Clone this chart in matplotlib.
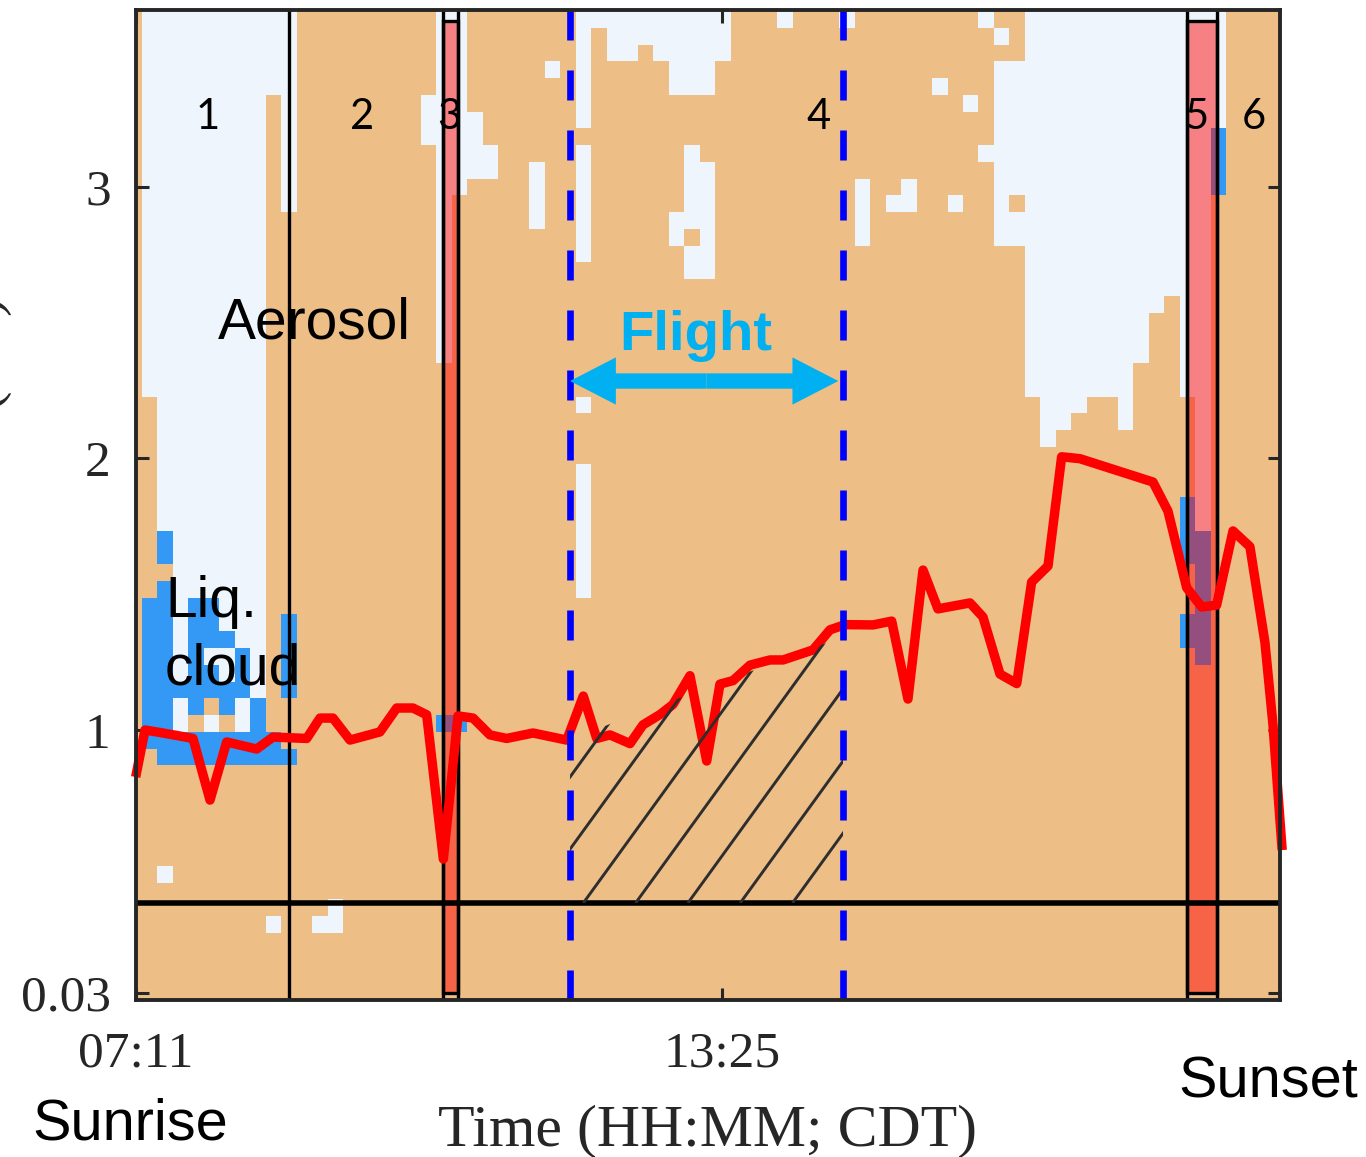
import numpy as np
import matplotlib
matplotlib.use("Agg")
import matplotlib.pyplot as plt
from matplotlib.colors import ListedColormap, BoundaryNorm
from matplotlib.patches import Rectangle, Polygon, FancyArrowPatch, ArrowStyle
from matplotlib.collections import LineCollection

# ------------------------------------------------------------------ data
# time in decimal hours (CDT)
t_start = 7 + 11 / 60          # 07:11 sunrise
t_mid = 13 + 25 / 60           # 13:25
t_stop = 19.357                # sunset
x_tick_vals = [t_start, t_mid]
x_tick_labels = ["07:11", "13:25"]
y_tick_vals = [0.03, 1, 2, 3]
y_tick_labels = ["0.03", "1", "2", "3"]

# classification grid (0 aerosol, 1 clear, 2 liquid cloud)
grid_t0 = 7.247        # first full time-bin edge (h)
grid_dt = 0.1647       # time bin (h)
grid_z0 = 0.005        # lowest altitude edge (km)
grid_dz = 0.0617       # altitude bin (km)
n_cols = 75            # column index -1 .. 73
n_rows = 59

# columns whose upper part is clear air: column index and lowest clear row
clear_col = [0, 1, 2, 3, 4, 5, 6, 7, 8, 9, 19, 20,
             57, 58, 59, 60, 61, 62, 63, 64, 65, 66, 67, 68]
clear_base = [36, 28, 28, 28, 28, 28, 28, 28, 54, 47, 38, 48,
              36, 33, 34, 35, 36, 36, 34, 38, 41, 42, 36, 28]

# isolated clear-air patches: column, lowest row, highest row
patch_col = [18, 21, 22, 25, 26, 28, 28, 28, 28, 29, 30, 31, 32, 33, 34, 34,
             35, 35, 35, 36, 36, 37, 41, 45, 46, 48, 49, 51, 52, 53, 54, 54,
             55, 55, 56, 56, 69, 1, 8, 11, 12]
patch_lo = [51, 49, 49, 46, 55, 24, 35, 44, 52, 58, 56, 56, 57, 56, 54, 45,
            54, 43, 46, 54, 43, 56, 58, 58, 45, 47, 47, 54, 47, 53, 58, 50,
            57, 45, 48, 45, 52, 7, 4, 4, 4]
patch_hi = [53, 52, 50, 49, 55, 31, 35, 50, 58, 58, 58, 58, 58, 58, 58, 46,
            58, 44, 50, 58, 49, 58, 58, 58, 48, 47, 48, 54, 47, 53, 58, 50,
            57, 55, 55, 46, 58, 7, 4, 4, 5]

# liquid-cloud patches: column, lowest row, highest row
cloud_col = [67, 67, 68, 69, 19, 20]
cloud_lo = [26, 21, 20, 48, 16, 16]
cloud_hi = [29, 22, 27, 51, 16, 16]

# morning cloud detail: rows 27 (top) .. 14, columns 0 .. 9
# a = aerosol, c = clear, w = liquid cloud
morning_rows = [
    "awccccccaa",
    "awccccccaa",
    "aaccccccaa",
    "awccccccaa",
    "wwcwwcccaa",
    "wwcwwcccaw",
    "wwcwwwccaw",
    "wwcwccwcaw",
    "wwcwwcwcaw",
    "wwwwwwwcaw",
    "wwcwawcwaa",
    "wwcacacwaa",
    "wwwwwwwwwa",
    "awwwwwwwww",
]
morning_top_row = 27

# boundary-layer height (red line)
pbl_time = [7.183, 7.282, 7.474, 7.793, 7.974, 8.151, 8.470, 8.644, 9.003, 9.144,
            9.282, 9.463, 9.782, 9.960, 10.133, 10.279, 10.456, 10.612, 10.772, 10.952,
            11.130, 11.410, 11.769, 11.945, 12.088, 12.229, 12.442, 12.580, 12.761, 12.899,
            13.080, 13.258, 13.399, 13.538, 13.719, 13.931, 14.070, 14.389, 14.570, 14.730,
            15.028, 15.226, 15.399, 15.559, 15.718, 16.059, 16.197, 16.378, 16.556, 16.715,
            16.889, 17.034, 17.229, 18.006, 18.165, 18.364, 18.524, 18.683, 18.857, 19.037,
            19.197, 19.282, 19.380]
pbl_height = [0.826, 0.999, 0.988, 0.968, 0.741, 0.955, 0.929, 0.973, 0.968, 1.043,
              1.043, 0.962, 0.992, 1.080, 1.080, 1.055, 0.524, 1.051, 1.043, 0.981,
              0.968, 0.988, 0.962, 1.124, 0.968, 0.981, 0.949, 1.018, 1.056, 1.093,
              1.199, 0.885, 1.168, 1.181, 1.238, 1.257, 1.257, 1.294, 1.368, 1.387,
              1.386, 1.400, 1.113, 1.588, 1.445, 1.467, 1.415, 1.205, 1.170, 1.544,
              1.603, 2.005, 1.998, 1.912, 1.805, 1.523, 1.452, 1.459, 1.732, 1.674,
              1.321, 1.019, 0.557]

# periods
period_bounds = [8.814, 10.452, 10.612, 18.367, 18.686]
red_periods = [(10.452, 10.612), (18.367, 18.686)]
period_names = ["1", "2", "3", "4", "5", "6"]
period_label_t = [7.953, 9.592, 10.517, 14.452, 18.474, 19.080]

flight_start, flight_end = 11.804, 14.708
surface_layer = 0.362
hatch_top = [0.966, 1.342]

# ------------------------------------------------------------------ colours
C_AER = "#EEBE87"
C_CLR = "#EEF5FC"
C_CLD = "#3399F4"
C_CYAN = "#00B0F0"

# ------------------------------------------------------------------ grid build
grid = np.zeros((n_rows, n_cols), dtype=int)
for c, b in zip(clear_col, clear_base):
    grid[b:, c + 1] = 1
for c, lo, hi in zip(patch_col, patch_lo, patch_hi):
    grid[lo:hi + 1, c + 1] = 1
code = {"a": 0, "c": 1, "w": 2}
for i, row in enumerate(morning_rows):
    r = morning_top_row - i
    for c, ch in enumerate(row):
        grid[r, c + 1] = code[ch]
for c, lo, hi in zip(cloud_col, cloud_lo, cloud_hi):
    grid[lo:hi + 1, c + 1] = 2

t_left = grid_t0 - grid_dt
t_right = t_left + n_cols * grid_dt
z_top = grid_z0 + n_rows * grid_dz

# ------------------------------------------------------------------ figure
W, H = 1366, 1157
fig = plt.figure(figsize=(W / 100, H / 100), dpi=100)
ax = fig.add_axes([135.7 / W, 1 - 1000 / H, (1280 - 135.7) / W, 990 / H])

cmap = ListedColormap([C_AER, C_CLR, C_CLD])
norm = BoundaryNorm([-0.5, 0.5, 1.5, 2.5], 3)
ax.imshow(grid, origin="lower", extent=[t_left, t_right, grid_z0, z_top],
          aspect="auto", interpolation="nearest", cmap=cmap, norm=norm, zorder=0)

# red periods
for a, b in red_periods:
    ax.add_patch(Rectangle((a, 0.03), b - a, 3.58, facecolor=(1, 0, 0, 0.48),
                           edgecolor="black", lw=2.4, zorder=1))
for tb in period_bounds:
    ax.axvline(tb, color="black", lw=2.4, zorder=2)

ax.axhline(surface_layer, color="black", lw=4, zorder=2)

# boundary layer line
ax.plot(pbl_time, pbl_height, color="#FF0000", lw=6.8, zorder=3,
        solid_joinstyle="round", solid_capstyle="butt", clip_on=False)

# hatch of flight region
poly = Polygon([(flight_start, surface_layer), (flight_end, surface_layer),
                (flight_end, hatch_top[1]), (flight_start, hatch_top[0])],
               closed=True, facecolor="none", edgecolor="none",
               transform=ax.transData)
ax.add_patch(poly)
h_slope = 0.4776
h_space = 0.5564
h_phase = 11.945
segs = []
for k in range(-4, 8):
    t0 = h_phase + k * h_space
    segs.append([(t0, surface_layer), (t0 + 3 / h_slope, surface_layer + 3)])
lc = LineCollection(segs, colors="#2E2E2E", linewidths=2.1, zorder=4)
ax.add_collection(lc)
lc.set_clip_path(poly)

# flight dashed lines
for tf in (flight_start, flight_end):
    ax.plot([tf, tf], [3.65, 0.005], color="#0000FF", lw=4.8,
            dashes=(4.5, 4.5), zorder=5, solid_capstyle="butt",
            dash_capstyle="butt")

# flight arrow (two halves)
y_arrow = 2.284
t_mid_arrow = 0.5 * (flight_start + flight_end)
for end in (flight_start, flight_end - 0.05):
    ax.add_patch(FancyArrowPatch(
        (t_mid_arrow, y_arrow), (end, y_arrow),
        arrowstyle=ArrowStyle("Simple", head_length=33, head_width=34,
                              tail_width=11),
        mutation_scale=1, shrinkA=0, shrinkB=0, lw=0, color=C_CYAN, zorder=6))
ax.text(13.144, 2.398, "Flight", color=C_CYAN, fontsize=40.5, fontweight="bold",
        family="Liberation Sans", ha="center", va="baseline", zorder=7)

# labels inside
for name, tl in zip(period_names, period_label_t):
    ax.text(tl, 3.211, name, fontsize=30, family="Lato", ha="center",
            va="baseline", color="black", zorder=7)
ax.text(8.059, 2.442, "Aerosol", fontsize=41, family="Liberation Sans",
        ha="left", va="baseline", zorder=7)
ax.text(7.495, 1.416, "Liq.", fontsize=41, family="Liberation Sans",
        ha="left", va="baseline", zorder=7)
ax.text(7.495, 1.165, "cloud", fontsize=41, family="Liberation Sans",
        ha="left", va="baseline", zorder=7)

# axes styling
ax.set_xlim(t_start, t_stop)
ax.set_ylim(0.005, 3.65)
ax.set_xticks(x_tick_vals)
ax.set_xticklabels(x_tick_labels)
ax.set_yticks(y_tick_vals)
ax.set_yticklabels(y_tick_labels)
for lab in ax.get_xticklabels() + ax.get_yticklabels():
    lab.set_family("Liberation Serif")
    lab.set_fontsize(37)
    lab.set_color("#262626")
ax.tick_params(axis="both", direction="in", length=9, width=2.2,
               top=True, right=True, color="#262626")
ax.tick_params(axis="x", pad=22)
ax.tick_params(axis="y", pad=18)
for s in ax.spines.values():
    s.set_linewidth(2.8)
    s.set_color("#262626")
    s.set_zorder(8)

# outside text
fig.text(708 / W, 1 - 1145 / H, "Time (HH:MM; CDT)", family="Liberation Serif",
         fontsize=43, ha="center", va="baseline", color="#262626")
fig.text(32 / W, 1 - 1140 / H, "Sunrise", family="Liberation Sans",
         fontsize=41.5, ha="left", va="baseline")
fig.text(1178 / W, 1 - 1097 / H, "Sunset", family="Liberation Sans",
         fontsize=41.5, ha="left", va="baseline")
fig.text(12 / W, 1 - 456 / H, "Altitude (km)", family="Liberation Serif",
         fontsize=42, rotation=90, ha="right", va="center", color="#262626")

fig.savefig("out.png", dpi=100)
